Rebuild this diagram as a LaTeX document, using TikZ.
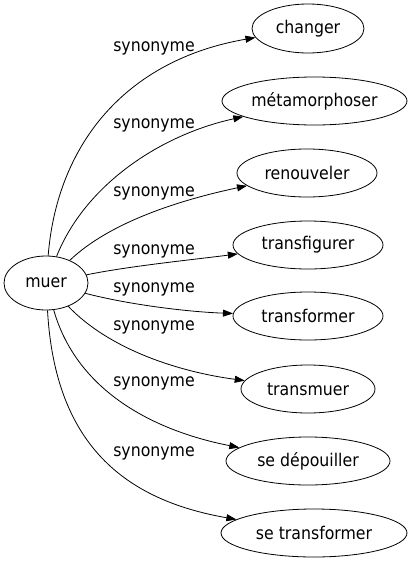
\documentclass[tikz,border=0pt]{standalone}
\usepackage{fontspec}
\setmainfont{DejaVu Sans Condensed}
\usetikzlibrary{shapes.geometric,arrows.meta}
\begin{document}
\begin{tikzpicture}[x=1pt,y=-1pt,
  every node/.style={font=\fontsize{17.5}{20}\selectfont},
  word/.style={draw,ellipse,inner sep=0pt,line width=0.8pt},
  lbl/.style={inner sep=0pt},
  rel/.style={line width=0.8pt,-{Triangle[length=10pt,width=7pt]}}]
\useasboundingbox (0,0) rectangle (409,563);
\node[word,minimum width=84,minimum height=54] (muer) at (46,283) {muer};
\node[word,minimum width=112,minimum height=49] (n1) at (308,28.5) {changer};
\node[word,minimum width=185,minimum height=48] (n2) at (314.5,101) {métamorphoser};
\node[word,minimum width=140,minimum height=48] (n3) at (307,173) {renouveler};
\node[word,minimum width=150,minimum height=48] (n4) at (308,245) {transfigurer};
\node[word,minimum width=150,minimum height=48] (n5) at (308,316) {transformer};
\node[word,minimum width=134,minimum height=48] (n6) at (308,389) {transmuer};
\node[word,minimum width=164,minimum height=48] (n7) at (308,461) {se dépouiller};
\node[word,minimum width=186,minimum height=48] (n8) at (314,533) {se transformer};
\node[lbl] (l1) at (154,48) {synonyme};
\node[lbl] (l2) at (154,125) {synonyme};
\node[lbl] (l3) at (154,193) {synonyme};
\node[lbl] (l4) at (154,251) {synonyme};
\node[lbl] (l5) at (154,289) {synonyme};
\node[lbl] (l6) at (154,327) {synonyme};
\node[lbl] (l7) at (154,383) {synonyme};
\node[lbl] (l8) at (154,453) {synonyme};
\draw[rel] (muer) .. controls (57,145) and (125,60) .. (n1);
\draw[rel] (muer) .. controls (85,185) and (160,135) .. (n2);
\draw[rel] (muer) .. controls (110,222) and (180,200) .. (n3);
\draw[rel] (muer) .. controls (130,266) and (190,260) .. (n4);
\draw[rel] (muer) .. controls (130,305) and (190,312) .. (n5);
\draw[rel] (muer) .. controls (110,350) and (180,372) .. (n6);
\draw[rel] (muer) .. controls (78,395) and (160,432) .. (n7);
\draw[rel] (muer) .. controls (55,445) and (125,500) .. (n8);
\end{tikzpicture}
\end{document}
